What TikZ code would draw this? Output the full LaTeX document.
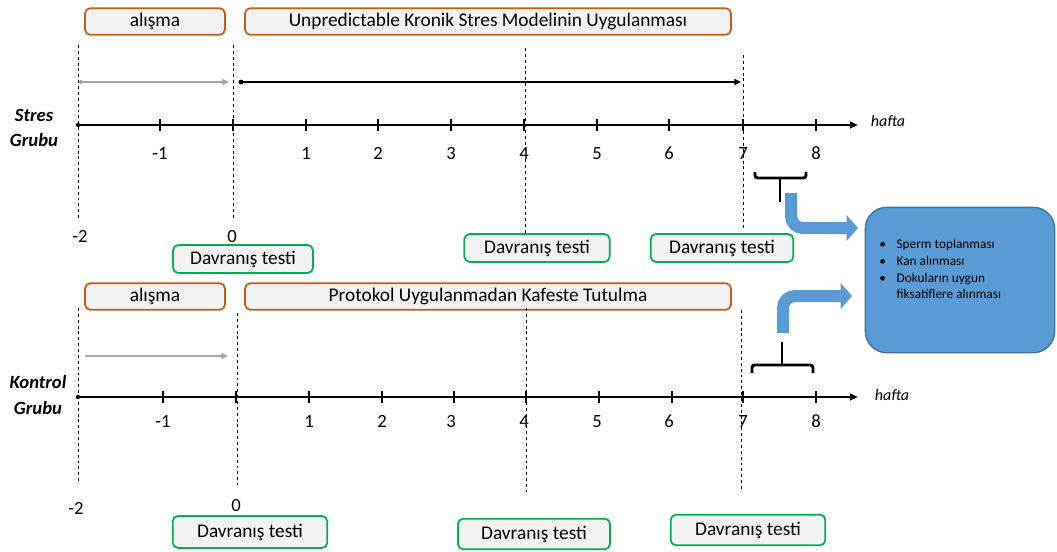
\documentclass[tikz,border=0pt]{standalone}
\usepackage{fontspec}
\setmainfont{Carlito}
\usetikzlibrary{arrows.meta}

\definecolor{phaseorange}{HTML}{C55A11}
\definecolor{testgreen}{HTML}{00B050}
\definecolor{boxgray}{HTML}{F2F2F2}
\definecolor{bluefill}{HTML}{5B9BD5}
\definecolor{blueedge}{HTML}{41719C}
\definecolor{lightarrow}{HTML}{A6A6A6}

\begin{document}
\begin{tikzpicture}[x=0.75pt,y=-0.75pt,
    phase/.style={draw=phaseorange,line width=1.3pt,fill=boxgray,rounded corners=4pt,
        minimum height=20pt,inner sep=0pt,font=\fontsize{14.5}{16}\selectfont},
    testbox/.style={draw=testgreen,line width=1.3pt,fill=boxgray,rounded corners=4pt,
        inner sep=0pt,font=\fontsize{14.5}{16}\selectfont},
    timeaxis/.style={line width=1.5pt,-{Triangle[length=6pt,width=5pt]}},
    period/.style={line width=1.3pt,-{Triangle[length=5pt,width=4.5pt]}},
    guide/.style={line width=0.7pt,dash pattern=on 2.2pt off 2.2pt},
    bracket/.style={line width=2.2pt,rounded corners=2pt},
    bluearrow/.style={bluefill,line width=9pt,rounded corners=9pt,
        -{Triangle[length=8.5pt,width=19pt]}},
    num/.style={font=\fontsize{14}{16}\selectfont,text height=9.5pt,text depth=0pt,inner sep=0pt},
    group/.style={font=\bfseries\itshape\fontsize{14}{19}\selectfont,align=center}]

    \useasboundingbox (0,0) rectangle (1057,551);

    % Phase boxes
    \node[phase,minimum width=105pt] (habitA) at (155,21.5) {alışma};
    \node[phase,minimum width=364.5pt] (stress) at (488,21.5) {Unpredictable Kronik Stres Modelinin Uygulanması};
    \node[phase,minimum width=105pt] (habitB) at (155,296.5) {alışma};
    \node[phase,minimum width=364.5pt] (cage) at (488,296.5) {Protokol Uygulanmadan Kafeste Tutulma};

    % Group names
    \node[group] (stresgrp) at (34,128) {Stres\\Grubu};
    \node[group] (kontrolgrp) at (38,395) {Kontrol\\Grubu};

    % Guide lines
    \foreach \x/\ya/\yb in {78/45/220, 233/45/220, 525/48/236, 743/55/228,
                           78/308/481, 237/313/485, 526/308/492, 741/310/490} {
        \draw[guide] (\x,\ya) -- (\x,\yb);
    }

    % Axes
    \coordinate (sA) at (78,125);
    \coordinate (sB) at (858,125);
    \draw[timeaxis] (sA) -- (sB);
    \fill (sA) circle (1.6pt);
    \node[font=\itshape\fontsize{12}{14}\selectfont] (weekA) at (888,121) {hafta};

    \coordinate (kA) at (78,397);
    \coordinate (kB) at (858,397);
    \draw[timeaxis] (kA) -- (kB);
    \fill (kA) circle (1.6pt);
    \node[font=\itshape\fontsize{12}{14}\selectfont] (weekB) at (892,395) {hafta};

    % Ticks and week labels
    \foreach \x/\label in {160/-1, 233/, 306/1, 378/2, 451/3, 524/4, 597/5, 669/6, 743/7, 816/8} {
        \draw[line width=1.5pt] (\x,119) -- (\x,131);
        \node[num] at (\x,153) {\label};
    }
    \foreach \x/\t/\label in {163/163/-1, 236/236/, 309/309/1, 382/382/2, 454/451/3,
                              526/524/4, 599/597/5, 672/669/6, 743/743/7, 816/816/8} {
        \draw[line width=1.5pt] (\x,391) -- (\x,403);
        \node[num] at (\t,421) {\label};
    }
    \node[num] (minA) at (80,236) {-2};
    \node[num] (zeroA) at (232,236) {0};
    \node[num] (minB) at (76,508) {-2};
    \node[num] (zeroB) at (236,505) {0};

    % Periods
    \coordinate (hA1) at (81,82);
    \coordinate (hA2) at (229,82);
    \draw[period,lightarrow] (hA1) -- (hA2);
    \fill[lightarrow] (hA1) circle (1.5pt);
    \coordinate (pA1) at (241,82);
    \coordinate (pA2) at (741,82);
    \draw[period] (pA1) -- (pA2);
    \fill (pA1) circle (1.8pt);
    \coordinate (hB1) at (85,356);
    \coordinate (hB2) at (228,356);
    \draw[period,lightarrow] (hB1) -- (hB2);

    % Behaviour tests
    \node[testbox,minimum width=105pt,minimum height=21pt] (testA) at (243,259) {Davranış testi};
    \node[testbox,minimum width=109pt,minimum height=21pt] (testB) at (537,248) {Davranış testi};
    \node[testbox,minimum width=107pt,minimum height=21pt] (testC) at (722,248) {Davranış testi};
    \node[testbox,minimum width=116pt,minimum height=24pt] (testD) at (250,532) {Davranış testi};
    \node[testbox,minimum width=114pt,minimum height=23pt] (testE) at (534,534) {Davranış testi};
    \node[testbox,minimum width=116pt,minimum height=23pt] (testF) at (748,530) {Davranış testi};

    % Sampling box
    \node[draw=blueedge,fill=bluefill,line width=1pt,rounded corners=16pt,
          minimum width=142pt,minimum height=109pt] (sample) at (960,280) {};
    \node[anchor=north west,inner sep=0pt,font=\fontsize{10}{12.5}\selectfont] (steps) at (879,237)
        {\begin{tabular}{@{}l@{\hspace{8pt}}l@{}}
            \textbullet & Sperm toplanması\\
            \textbullet & Kan alınması\\
            \textbullet & Dokuların uygun\\
                        & fiksatiflere alınması
         \end{tabular}};

    % Brackets
    \draw[bracket] (755,172) -- (755,178) -- (806,178) -- (806,172);
    \coordinate (brA) at (780,178);
    \coordinate (stemA) at (780,202);
    \draw[line width=2.2pt] (brA) -- (stemA);
    \draw[bracket] (752,373) -- (752,365) -- (813,365) -- (813,373);
    \coordinate (brB) at (782,365);
    \coordinate (stemB) at (782,342);
    \draw[line width=2.2pt] (brB) -- (stemB);

    % Blue arrows
    \coordinate (tipA) at (858,228);
    \coordinate (tipB) at (852,296);
    \draw[bluearrow] (791,193) -- (791,228) -- (tipA);
    \draw[bluearrow] (783,333) -- (783,296) -- (tipB);

\end{tikzpicture}
\end{document}
